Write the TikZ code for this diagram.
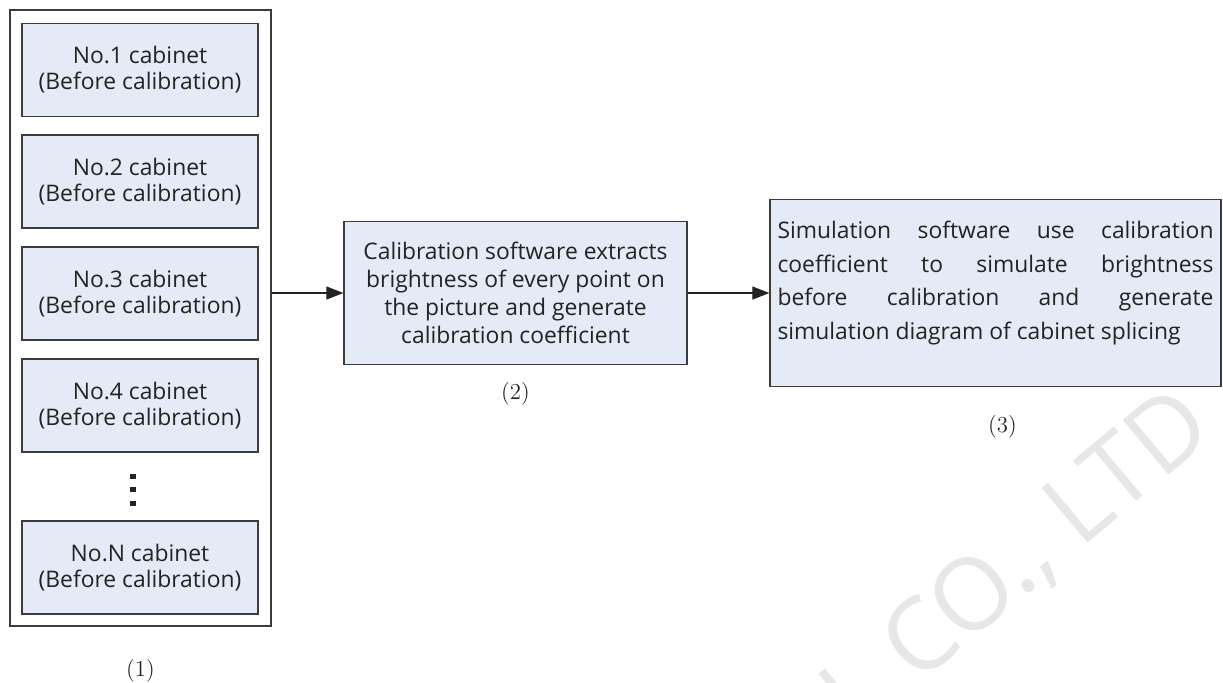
\documentclass[tikz,border=0pt]{standalone}
\usepackage{fontspec}
\setsansfont{Open Sans}
\usetikzlibrary{positioning, arrows.meta}
\definecolor{cbFill}{RGB}{228, 235, 246}
\definecolor{cbEdge}{RGB}{60, 60, 60}
\definecolor{cbText}{RGB}{35, 35, 35}
\definecolor{cbMark}{RGB}{231, 231, 231}
\tikzset{
    base/.style={
        font=\sffamily\fontsize{13}{14.8}\selectfont,
        text=cbText,
        align=center
    },
    cabinet/.style={
        base,
        rectangle,
        draw=cbEdge,
        line width=0.7pt,
        fill=cbFill,
        minimum width=4.72cm,
        minimum height=1.86cm,
        inner sep=0pt
    },
    frame/.style={
        rectangle,
        draw=cbEdge,
        line width=0.7pt,
        minimum width=5.22cm,
        minimum height=12.32cm,
        inner sep=0pt
    },
    software/.style={
        base,
        rectangle,
        draw=cbEdge,
        line width=0.7pt,
        fill=cbFill,
        inner sep=0pt
    },
    flow/.style={
        -{Triangle[length=0.34cm, width=0.26cm]},
        line width=0.6pt,
        color=cbText
    },
    caption/.style={
        font=\fontsize{13}{14}\selectfont,
        text=cbText,
        inner sep=0pt
    },
    stamp/.style={
        font=\sffamily\fontsize{57}{60}\selectfont,
        text=cbMark,
        rotate=40,
        anchor=base west,
        inner sep=0pt
    }
}

\begin{document}
\begin{tikzpicture}
  \useasboundingbox (0,0) rectangle (24.46,-13.64);

  % Watermark
  \begin{scope}
    \clip (0,0) rectangle (24.46,-13.64);
    \node[stamp] (mark) at (17.15,-14.72) {L CO., LTD};
  \end{scope}

  % The cabinets
  \node[frame] (group) at (2.81,-6.36) {};
  \node[cabinet] (cab1) at (2.8,-1.40) {No.1 cabinet\\(Before calibration)};
  \node[cabinet] (cab2) at (2.8,-3.63) {No.2 cabinet\\(Before calibration)};
  \node[cabinet] (cab3) at (2.8,-5.87) {No.3 cabinet\\(Before calibration)};
  \node[cabinet] (cab4) at (2.8,-8.11) {No.4 cabinet\\(Before calibration)};
  \node[cabinet] (cabN) at (2.8,-11.35) {No.N cabinet\\(Before calibration)};
  \foreach \y in {-9.52,-9.78,-10.06}
    \fill[cbText] (2.6,\y+0.05) rectangle (2.72,\y-0.05);

  % The software
  \node[software, minimum width=6.86cm, minimum height=2.86cm,
        font=\sffamily\fontsize{13}{15.9}\selectfont] (calib) at (10.31,-5.86)
    {Calibration software extracts\\brightness of every point on\\the picture and generate\\calibration coefficient};
  \node[software, text width=8.72cm, align=justify, minimum width=9.02cm, minimum height=3.74cm,
        font=\sffamily\fontsize{13}{19.3}\selectfont] (sim) at (19.91,-5.86)
    {Simulation software use calibration\linebreak
     coefficient to simulate brightness\linebreak
     before calibration and generate\linebreak
     simulation diagram of cabinet splicing\par\vspace{0.4cm}};

  \draw[flow] (group.east |- calib.west) -- (calib.west);
  \draw[flow] (calib.east) -- (sim.west);

  % Captions
  \node[caption, below=0.65cm of group] (cap1) {(1)};
  \node[caption, below=0.33cm of calib] (cap2) {(2)};
  \node[caption, below=0.55cm of sim, xshift=0.14cm] (cap3) {(3)};
\end{tikzpicture}
\end{document}
